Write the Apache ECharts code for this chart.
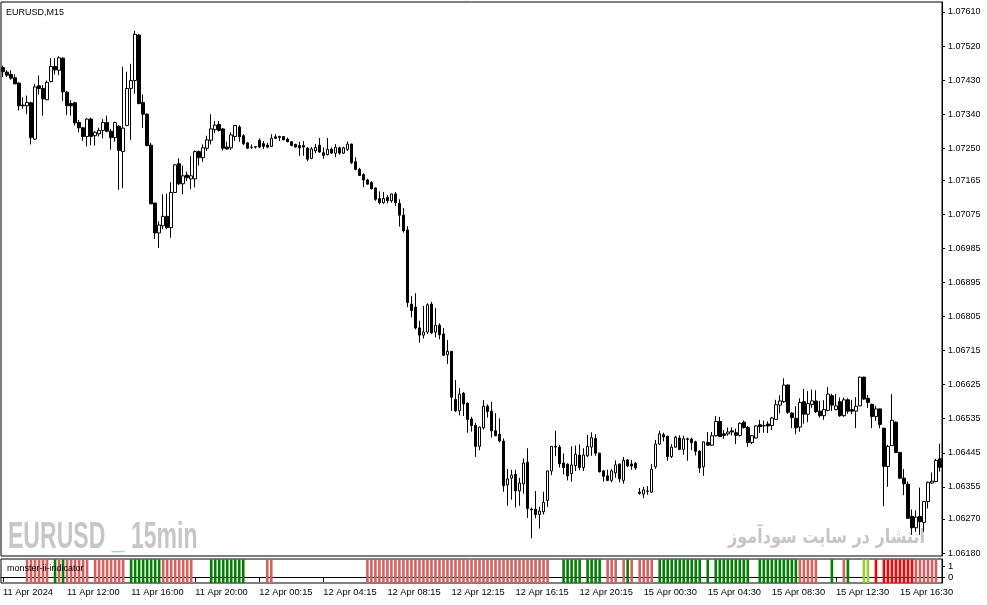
<!DOCTYPE html>
<html>
<head>
<meta charset="utf-8">
<title>EURUSD,M15</title>
<script src="https://cdn.jsdelivr.net/npm/echarts@6/dist/echarts.min.js"></script>
<style>
  html, body { margin: 0; padding: 0; background: #fff; }
  #main { width: 987px; height: 605px; }
</style>
</head>
<body>
<div id="main"></div>
<script>
// rows are [open, close, low, high], one per M15 bar
var candles11Apr = [
  [1.07463,1.07452,1.07438,1.07468],[1.07451,1.07443,1.07438,1.07456],[1.07445,1.07435,1.07431,1.07456],[1.07436,1.07420,1.07420,1.07445],
  [1.07422,1.07362,1.07350,1.07424],[1.07362,1.07364,1.07354,1.07385],[1.07362,1.07371,1.07340,1.07389],[1.07370,1.07278,1.07260,1.07373],
  [1.07274,1.07412,1.07272,1.07420],[1.07415,1.07408,1.07392,1.07442],[1.07408,1.07380,1.07336,1.07417],[1.07378,1.07424,1.07377,1.07429],
  [1.07426,1.07466,1.07424,1.07488],[1.07466,1.07457,1.07445,1.07488],[1.07456,1.07489,1.07443,1.07493],[1.07488,1.07399,1.07375,1.07490],
  [1.07398,1.07362,1.07338,1.07401],[1.07368,1.07362,1.07336,1.07377],[1.07370,1.07317,1.07310,1.07373],[1.07318,1.07304,1.07292,1.07325],
  [1.07304,1.07281,1.07269,1.07306],[1.07281,1.07327,1.07255,1.07329],[1.07327,1.07281,1.07258,1.07331],[1.07283,1.07292,1.07257,1.07295],
  [1.07288,1.07297,1.07281,1.07304],[1.07297,1.07318,1.07276,1.07327],[1.07318,1.07295,1.07292,1.07336],[1.07295,1.07278,1.07246,1.07301],
  [1.07278,1.07318,1.07267,1.07320],[1.07308,1.07244,1.07140,1.07311],[1.07241,1.07303,1.07144,1.07465],[1.07310,1.07408,1.07308,1.07452],
  [1.07408,1.07429,1.07272,1.07473],[1.07429,1.07551,1.07394,1.07560],[1.07549,1.07368,1.07366,1.07552],[1.07371,1.07340,1.07304,1.07392],
  [1.07340,1.07257,1.07255,1.07342],[1.07258,1.07103,1.07102,1.07264],[1.07105,1.07026,1.07010,1.07106],[1.07026,1.07047,1.06986,1.07056],
  [1.07045,1.07070,1.07036,1.07128],[1.07070,1.07040,1.07036,1.07130],[1.07040,1.07133,1.07013,1.07160],[1.07133,1.07206,1.07132,1.07208],
  [1.07209,1.07156,1.07153,1.07223],[1.07156,1.07177,1.07128,1.07204],[1.07179,1.07172,1.07163,1.07188],[1.07169,1.07177,1.07142,1.07229],
  [1.07169,1.07241,1.07146,1.07244],[1.07241,1.07225,1.07204,1.07244],[1.07225,1.07251,1.07214,1.07260],[1.07250,1.07272,1.07243,1.07283],
  [1.07271,1.07301,1.07260,1.07340],[1.07299,1.07311,1.07290,1.07322],[1.07313,1.07297,1.07294,1.07322],[1.07301,1.07250,1.07244,1.07302],
  [1.07253,1.07248,1.07246,1.07267],[1.07251,1.07285,1.07246,1.07292],[1.07281,1.07310,1.07269,1.07311],[1.07306,1.07280,1.07267,1.07311],
  [1.07283,1.07262,1.07258,1.07287],[1.07264,1.07250,1.07248,1.07265],[1.07252,1.07253,1.07248,1.07260],[1.07253,1.07254,1.07249,1.07255]
];
var candles12Apr = [
  [1.07271,1.07253,1.07250,1.07276],[1.07262,1.07255,1.07248,1.07269],[1.07258,1.07253,1.07250,1.07264],[1.07255,1.07276,1.07253,1.07287],
  [1.07280,1.07276,1.07274,1.07287],[1.07281,1.07278,1.07269,1.07283],[1.07281,1.07272,1.07272,1.07282],[1.07274,1.07267,1.07266,1.07278],
  [1.07267,1.07257,1.07255,1.07268],[1.07260,1.07253,1.07251,1.07262],[1.07257,1.07251,1.07230,1.07267],[1.07257,1.07253,1.07230,1.07269],
  [1.07250,1.07221,1.07216,1.07253],[1.07223,1.07248,1.07221,1.07253],[1.07243,1.07252,1.07237,1.07261],[1.07258,1.07240,1.07238,1.07277],
  [1.07238,1.07231,1.07222,1.07252],[1.07233,1.07247,1.07231,1.07277],[1.07247,1.07237,1.07235,1.07252],[1.07237,1.07252,1.07226,1.07261],
  [1.07251,1.07237,1.07233,1.07254],[1.07237,1.07251,1.07235,1.07254],[1.07247,1.07261,1.07243,1.07268],[1.07261,1.07212,1.07208,1.07262],
  [1.07214,1.07194,1.07192,1.07226],[1.07194,1.07178,1.07177,1.07198],[1.07180,1.07166,1.07147,1.07184],[1.07166,1.07155,1.07154,1.07169],
  [1.07159,1.07143,1.07141,1.07163],[1.07145,1.07115,1.07111,1.07146],[1.07117,1.07106,1.07101,1.07136],[1.07106,1.07117,1.07103,1.07134],
  [1.07120,1.07111,1.07104,1.07126],[1.07111,1.07129,1.07106,1.07130],[1.07129,1.07106,1.07097,1.07134],[1.07104,1.07073,1.07043,1.07115],
  [1.07073,1.07032,1.07027,1.07092],[1.07034,1.06842,1.06830,1.07044],[1.06838,1.06821,1.06803,1.06859],[1.06830,1.06775,1.06771,1.06867],
  [1.06775,1.06756,1.06736,1.06794],[1.06756,1.06764,1.06747,1.06833],[1.06764,1.06836,1.06759,1.06840],[1.06838,1.06762,1.06759,1.06844],
  [1.06764,1.06782,1.06750,1.06828],[1.06782,1.06757,1.06745,1.06787],[1.06759,1.06703,1.06701,1.06775],[1.06704,1.06713,1.06680,1.06743],
  [1.06713,1.06592,1.06556,1.06714],[1.06586,1.06556,1.06553,1.06637],[1.06556,1.06600,1.06544,1.06616],[1.06602,1.06574,1.06542,1.06606],
  [1.06576,1.06533,1.06498,1.06578],[1.06534,1.06517,1.06501,1.06540],[1.06518,1.06462,1.06434,1.06524],[1.06462,1.06513,1.06452,1.06514],
  [1.06511,1.06568,1.06506,1.06584],[1.06568,1.06554,1.06538,1.06573],[1.06555,1.06503,1.06485,1.06580],[1.06503,1.06490,1.06489,1.06550],
  [1.06494,1.06476,1.06473,1.06536],[1.06476,1.06358,1.06342,1.06483],[1.06360,1.06376,1.06305,1.06402],[1.06378,1.06386,1.06321,1.06400],
  [1.06388,1.06344,1.06300,1.06400],[1.06344,1.06365,1.06305,1.06379],[1.06363,1.06418,1.06337,1.06430],[1.06420,1.06298,1.06273,1.06457],
  [1.06296,1.06294,1.06219,1.06300],[1.06296,1.06282,1.06272,1.06344],[1.06282,1.06291,1.06245,1.06302],[1.06289,1.06314,1.06282,1.06342],
  [1.06319,1.06397,1.06302,1.06398],[1.06397,1.06462,1.06386,1.06463],[1.06462,1.06460,1.06436,1.06503],[1.06460,1.06416,1.06406,1.06466],
  [1.06418,1.06406,1.06388,1.06443],[1.06415,1.06384,1.06372,1.06417],[1.06390,1.06413,1.06369,1.06462],[1.06411,1.06441,1.06397,1.06464],
  [1.06439,1.06406,1.06399,1.06467],[1.06406,1.06439,1.06397,1.06457],[1.06437,1.06462,1.06434,1.06492],[1.06460,1.06485,1.06437,1.06499],
  [1.06483,1.06444,1.06437,1.06494],[1.06444,1.06395,1.06393,1.06445],[1.06397,1.06383,1.06369,1.06400],[1.06384,1.06372,1.06370,1.06400],
  [1.06372,1.06397,1.06367,1.06402],[1.06392,1.06413,1.06379,1.06425],[1.06415,1.06376,1.06367,1.06417],[1.06372,1.06425,1.06363,1.06434],
  [1.06426,1.06410,1.06407,1.06428],[1.06415,1.06410,1.06400,1.06426],[1.06417,1.06405,1.06400,1.06421]
];
var candles15Apr = [
  [1.06341,1.06338,1.06334,1.06352],[1.06336,1.06347,1.06325,1.06355],[1.06343,1.06344,1.06334,1.06357],[1.06341,1.06401,1.06339,1.06415],
  [1.06408,1.06468,1.06403,1.06479],[1.06468,1.06495,1.06466,1.06503],[1.06493,1.06487,1.06475,1.06498],[1.06489,1.06435,1.06424,1.06490],
  [1.06435,1.06460,1.06431,1.06468],[1.06460,1.06486,1.06458,1.06490],[1.06484,1.06454,1.06452,1.06491],[1.06454,1.06482,1.06440,1.06490],
  [1.06482,1.06480,1.06424,1.06485],[1.06481,1.06472,1.06452,1.06485],[1.06474,1.06449,1.06438,1.06477],[1.06449,1.06405,1.06392,1.06452],
  [1.06408,1.06474,1.06384,1.06475],[1.06472,1.06465,1.06463,1.06500],[1.06465,1.06490,1.06463,1.06500],[1.06490,1.06528,1.06488,1.06542],
  [1.06528,1.06488,1.06486,1.06540],[1.06495,1.06491,1.06482,1.06505],[1.06495,1.06500,1.06490,1.06512],[1.06503,1.06500,1.06491,1.06512],
  [1.06498,1.06491,1.06468,1.06509],[1.06491,1.06523,1.06488,1.06525],[1.06526,1.06512,1.06509,1.06530],[1.06512,1.06472,1.06461,1.06516],
  [1.06472,1.06490,1.06468,1.06492],[1.06484,1.06516,1.06482,1.06518],[1.06519,1.06514,1.06497,1.06532],[1.06516,1.06517,1.06498,1.06530],
  [1.06521,1.06516,1.06497,1.06528],[1.06517,1.06537,1.06505,1.06540],[1.06533,1.06572,1.06532,1.06585],[1.06571,1.06582,1.06549,1.06597],
  [1.06580,1.06624,1.06577,1.06642],[1.06624,1.06552,1.06548,1.06626],[1.06550,1.06538,1.06510,1.06552],[1.06536,1.06511,1.06494,1.06568],
  [1.06513,1.06578,1.06501,1.06589],[1.06580,1.06547,1.06522,1.06614],[1.06547,1.06575,1.06526,1.06608],[1.06573,1.06582,1.06564,1.06612],
  [1.06582,1.06554,1.06550,1.06610],[1.06555,1.06543,1.06538,1.06582],[1.06543,1.06559,1.06532,1.06584],[1.06557,1.06600,1.06555,1.06619],
  [1.06596,1.06571,1.06555,1.06601],[1.06559,1.06569,1.06557,1.06600],[1.06580,1.06543,1.06540,1.06591],[1.06543,1.06585,1.06540,1.06591],
  [1.06585,1.06555,1.06548,1.06589],[1.06559,1.06555,1.06547,1.06585],[1.06555,1.06568,1.06510,1.06592],[1.06569,1.06645,1.06568,1.06646],
  [1.06645,1.06587,1.06585,1.06646],[1.06589,1.06578,1.06563,1.06598],[1.06573,1.06541,1.06510,1.06575],[1.06541,1.06561,1.06529,1.06569],
  [1.06561,1.06520,1.06510,1.06562],[1.06510,1.06409,1.06304,1.06511],[1.06409,1.06462,1.06355,1.06466],[1.06464,1.06531,1.06463,1.06600],
  [1.06526,1.06446,1.06444,1.06528],[1.06446,1.06378,1.06376,1.06447],[1.06378,1.06363,1.06333,1.06402],[1.06362,1.06272,1.06271,1.06369],
  [1.06277,1.06247,1.06228,1.06295],[1.06247,1.06275,1.06236,1.06293],[1.06277,1.06263,1.06228,1.06353],[1.06261,1.06316,1.06236,1.06318],
  [1.06316,1.06367,1.06298,1.06369],[1.06365,1.06370,1.06363,1.06393],[1.06369,1.06425,1.06367,1.06429],[1.06429,1.06407,1.06395,1.06469]
];

var xTickLabels = ['11 Apr 2024', '11 Apr 12:00', '11 Apr 16:00', '11 Apr 20:00', '12 Apr 00:15',
  '12 Apr 04:15', '12 Apr 08:15', '12 Apr 12:15', '12 Apr 16:15', '12 Apr 20:15',
  '15 Apr 00:30', '15 Apr 04:30', '15 Apr 08:30', '15 Apr 12:30', '15 Apr 16:30'];
var yTickLabels = ['1.07610', '1.07520', '1.07430', '1.07340', '1.07250', '1.07165', '1.07075', '1.06985',
  '1.06895', '1.06805', '1.06715', '1.06625', '1.06535', '1.06445', '1.06355', '1.06270', '1.06180'];

// monster-ii-indicator state per bar, run-length: [state, bars]
// R = sell (light red), G = buy, Y = weak buy, B = strong sell, . = nothing
var indicatorRuns = [
  ['.',6],['R',6],['.',1],['G',1],['R',1],['G',1],['R',6],['.',1],['R',8],['.',1],['G',8],['R',8],
  ['.',4],['G',9],['.',5],['R',2],['.',23],['R',46],['.',3],['G',5],['.',1],['G',4],['.',1],['R',3],
  ['.',1],['R',1],['G',1],['R',1],['.',1],['R',4],['.',1],['G',11],['.',1],['G',1],['.',1],['G',9],
  ['.',2],['G',10],['R',5],['.',3],['G',1],['.',2],['R',1],['G',1],['.',3],['Y',2],['.',1],['B',1],
  ['.',1],['B',8],['R',6],['.',1]
];
var indicatorColors = { R: '#d46060', G: '#008000', Y: '#9acd32', B: '#ff0000' };

var candles = candles11Apr.concat(candles12Apr, candles15Apr);
var cats = candles.map(function (c, i) { return String(i); });
var states = [];
indicatorRuns.forEach(function (r) {
  for (var k = 0; k < r[1]; k++) states.push(r[0]);
});
var indicatorData = states.map(function (s) {
  return s === '.' ? '-' : { value: 1, itemStyle: { color: indicatorColors[s] } };
});
var yTicks = yTickLabels.map(Number);

var font = 'Liberation Sans';
var chart = echarts.init(document.getElementById('main'), null, { renderer: 'canvas' });
chart.setOption({
  animation: false,
  backgroundColor: '#fff',
  grid: [
    { left: 1, right: 45, top: 2, bottom: 49, show: true, borderColor: '#000', borderWidth: 1 },
    { left: 1, right: 45, top: 559, height: 24, show: true, borderColor: '#000', borderWidth: 1 }
  ],
  xAxis: [
    { type: 'category', gridIndex: 0, data: cats, boundaryGap: true,
      axisLine: { show: false }, axisTick: { show: false }, axisLabel: { show: false } },
    { type: 'category', gridIndex: 1, data: cats, boundaryGap: true,
      axisLine: { show: true, lineStyle: { color: '#000', width: 1 } },
      axisTick: { show: true, alignWithLabel: true, interval: 15, length: 4, lineStyle: { color: '#000' } },
      axisLabel: { interval: 15, align: 'left', margin: 5, color: '#000', fontFamily: font, fontSize: 9.3,
        formatter: function (v, idx) { return xTickLabels[idx / 16] || ''; } } }
  ],
  yAxis: [
    { type: 'value', gridIndex: 0, position: 'right', min: 1.061722, max: 1.076364,
      axisLine: { show: true, lineStyle: { color: '#000' } },
      splitLine: { show: false },
      axisTick: { show: true, length: 3, customValues: yTicks, lineStyle: { color: '#000' } },
      axisLabel: { customValues: yTicks, margin: 6, color: '#000', fontFamily: font, fontSize: 9,
        formatter: function (v) { return v.toFixed(5); } } },
    { type: 'value', gridIndex: 1, position: 'right', min: -0.45, max: 1.6,
      axisLine: { show: true, lineStyle: { color: '#000' } },
      splitLine: { show: false },
      axisTick: { show: true, length: 3, customValues: [0, 1], lineStyle: { color: '#000' } },
      axisLabel: { customValues: [0, 1], margin: 6, color: '#000', fontFamily: font, fontSize: 9.5 } },
    { type: 'value', gridIndex: 1, min: 0, max: 1.02, show: false }
  ],
  series: [
    { type: 'candlestick', xAxisIndex: 0, yAxisIndex: 0, data: candles, barWidth: 3,
      itemStyle: { color: '#fff', color0: '#000', borderColor: '#000', borderColor0: '#000',
        borderColorDoji: '#000', borderWidth: 1 },
      emphasis: { disabled: true } },
    { type: 'bar', xAxisIndex: 1, yAxisIndex: 2, data: indicatorData, barWidth: 2.6,
      emphasis: { disabled: true } }
  ],
  graphic: [
    { type: 'text', x: 6, y: 12.5, z: 100,
      style: { text: 'EURUSD,M15', font: '9px "Liberation Sans"', fill: '#000', verticalAlign: 'middle' } },
    { type: 'text', x: 7, y: 568.5, z: 100,
      style: { text: 'monster-ii-indicator', font: '9px "Liberation Sans"', fill: '#000', verticalAlign: 'middle' } },
    { type: 'text', x: 8, y: 538, z: 0, scaleX: 0.64,
      style: { text: 'EURUSD _ 15min', font: 'bold 36px "Liberation Sans"', fill: '#c6c6c6', verticalAlign: 'middle' } },
    { type: 'text', x: 925, y: 538, z: 0, scaleX: 0.8,
      style: { text: 'انتشار در سایت سودآموز', font: 'bold 20px "DejaVu Sans"', fill: '#c6c6c6',
        align: 'right', verticalAlign: 'middle' } }
  ]
});
</script>
</body>
</html>
